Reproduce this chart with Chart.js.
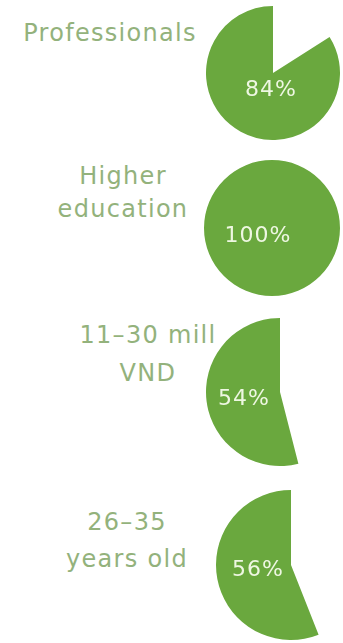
<!DOCTYPE html>
<html>
<head>
<meta charset="utf-8">
<script src="https://cdn.jsdelivr.net/npm/chart.js@4"></script>
<style>
  html, body { margin: 0; padding: 0; background: #fff; overflow: hidden; }
  body { width: 343px; height: 643px; position: relative; font-family: "DejaVu Sans", sans-serif; }
  .pie { position: absolute; }
  .label {
    position: absolute; color: #93b27c; font-size: 24px; letter-spacing: 1.3px;
    text-align: center; white-space: nowrap;
  }
</style>
</head>
<body>
<div class="label" style="left:0px; top:15px; width:220px; line-height:36px;">Professionals</div>
<div class="label" style="left:38px; top:160px; width:170px; line-height:33px;">Higher<br>education</div>
<div class="label" style="left:63px; top:316px; width:170px; line-height:38px;">11–30 mill<br>VND</div>
<div class="label" style="left:42px; top:504px; width:170px; line-height:37px;">26–35<br>years old</div>

<div class="pie" style="left:206px; top:6px; width:134px; height:134px;"><canvas id="pie0"></canvas></div>
<div class="pie" style="left:204px; top:160px; width:136px; height:136px;"><canvas id="pie1"></canvas></div>
<div class="pie" style="left:206px; top:318px; width:148px; height:148px;"><canvas id="pie2"></canvas></div>
<div class="pie" style="left:216px; top:490px; width:150px; height:150px;"><canvas id="pie3"></canvas></div>

<script>
// data
const categories = ['Professionals', 'Higher education', '11–30 mill VND', '26–35 years old'];
const percents = [84, 100, 54, 56];

// where the % label sits relative to pie centre
const labelOffsets = [[-2, 17], [-14, 8], [-36, 7], [-33, 5]];

const green = '#6aa83e';

const centerText = {
  id: 'centerText',
  afterDatasetsDraw(chart, args, opts) {
    const arc = chart.getDatasetMeta(0).data[0];
    const ctx = chart.ctx;
    ctx.save();
    ctx.fillStyle = '#eef7e2';
    ctx.font = '22px "DejaVu Sans", sans-serif';
    ctx.letterSpacing = '1px';
    ctx.textAlign = 'center';
    ctx.textBaseline = 'middle';
    ctx.fillText(opts.text, arc.x + opts.dx, arc.y + opts.dy);
    ctx.restore();
  }
};

percents.forEach((p, i) => {
  const ctx = document.getElementById('pie' + i).getContext('2d');
  new Chart(ctx, {
    type: 'pie',
    data: {
      labels: [categories[i], ''],
      datasets: [{
        data: [p, 100 - p],
        backgroundColor: [green, 'rgba(0,0,0,0)'],
        borderWidth: 0
      }]
    },
    options: {
      responsive: true,
      maintainAspectRatio: false,
      animation: false,
      rotation: (100 - p) * 3.6,
      layout: { padding: 0 },
      plugins: {
        legend: { display: false },
        tooltip: { enabled: false },
        centerText: { text: p + '%', dx: labelOffsets[i][0], dy: labelOffsets[i][1] }
      }
    },
    plugins: [centerText]
  });
});
</script>
</body>
</html>
